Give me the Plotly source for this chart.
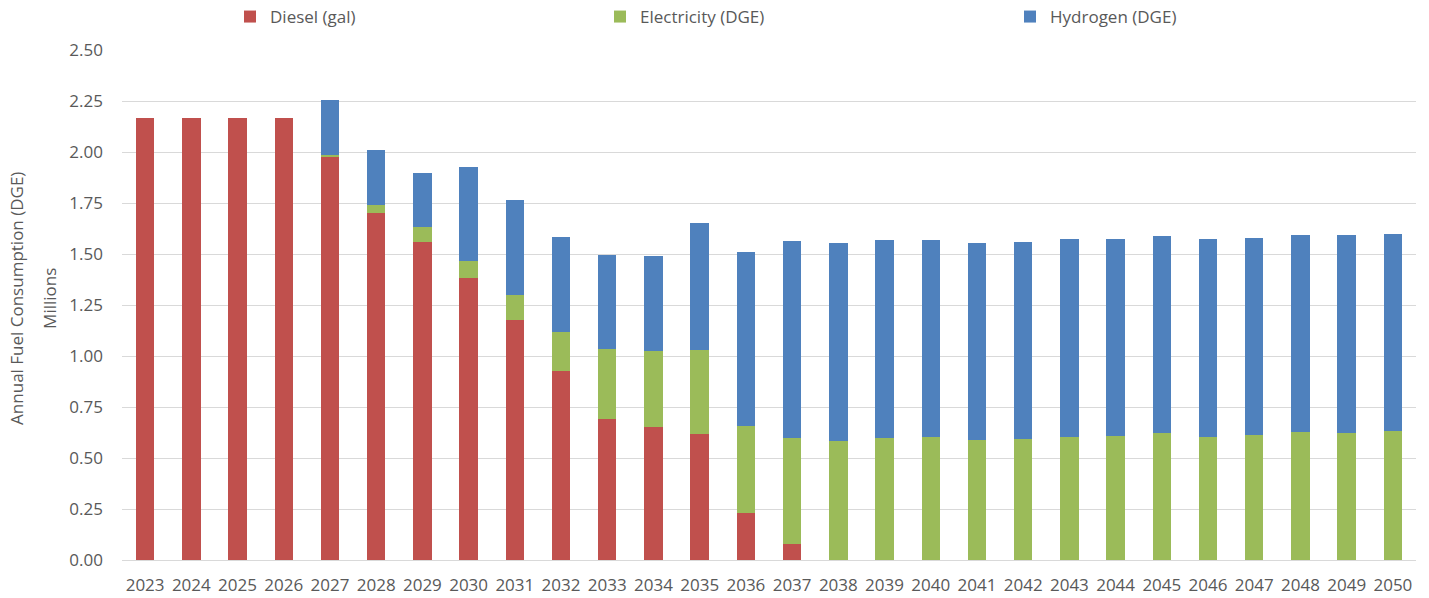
import plotly.graph_objects as go

years = [str(y) for y in range(2023, 2051)]

# Annual fuel consumption by fuel type, millions of DGE
diesel = [2.165, 2.165, 2.165, 2.165, 1.977, 1.700, 1.560, 1.384, 1.178, 0.925,
          0.693, 0.654, 0.616, 0.232, 0.077, 0, 0, 0, 0, 0, 0, 0, 0, 0, 0, 0, 0, 0]
electricity = [0, 0, 0, 0, 0.008, 0.039, 0.071, 0.082, 0.121, 0.194,
               0.341, 0.372, 0.413, 0.426, 0.519, 0.585, 0.596, 0.603, 0.588, 0.592,
               0.603, 0.608, 0.621, 0.605, 0.613, 0.627, 0.624, 0.631]
hydrogen = [0, 0, 0, 0, 0.270, 0.269, 0.268, 0.462, 0.464, 0.464,
            0.461, 0.463, 0.623, 0.850, 0.968, 0.967, 0.971, 0.966, 0.966, 0.967,
            0.969, 0.966, 0.967, 0.969, 0.967, 0.966, 0.968, 0.966]

y_ticks = [0, 0.25, 0.5, 0.75, 1.0, 1.25, 1.5, 1.75, 2.0, 2.25, 2.5]

FONT = "Open Sans"
GREY = "#595959"
FS = 17

series = [
    ("Diesel (gal)", diesel, "#C0504D", "legend"),
    ("Electricity (DGE)", electricity, "#9BBB59", "legend2"),
    ("Hydrogen (DGE)", hydrogen, "#4F81BD", "legend3"),
]

fig = go.Figure()
for name, vals, color, leg in series:
    fig.add_trace(go.Bar(
        x=years, y=vals, name=name, legend=leg, showlegend=True,
        marker=dict(color=color, line=dict(width=0)),
    ))

W, H = 1429, 598
legend_common = dict(
    orientation="h", xref="container", yref="container",
    yanchor="middle", xanchor="left",
    font=dict(family=FONT, size=FS, color=GREY),
    bgcolor="rgba(0,0,0,0)", itemwidth=30,
)

fig.update_layout(
    width=W, height=H,
    showlegend=True,
    barmode="stack", bargap=0.6,
    paper_bgcolor="white", plot_bgcolor="white",
    margin=dict(l=122, r=13, t=50, b=38, autoexpand=False),
    font=dict(family=FONT, size=FS, color=GREY),
    legend=dict(x=230 / W, y=1 - 17 / H, **legend_common),
    legend2=dict(x=600 / W, y=1 - 17 / H, **legend_common),
    legend3=dict(x=1010 / W, y=1 - 17 / H, **legend_common),
    xaxis=dict(
        type="category", showgrid=False, showline=True,
        linecolor="#D9D9D9", linewidth=1, ticks="",
        tickfont=dict(family=FONT, size=FS, color=GREY),
        ticklabelstandoff=10,
    ),
    yaxis=dict(
        range=[0, 2.5], tickvals=y_ticks,
        ticktext=[f"{v:.2f}" for v in y_ticks],
        showgrid=True, gridcolor="#D9D9D9", gridwidth=1,
        zeroline=False, showline=False, ticks="",
        tickfont=dict(family=FONT, size=FS, color=GREY),
        ticklabelstandoff=18,
    ),
    annotations=[
        dict(text="Annual Fuel Consumption (DGE)", textangle=-90,
             xref="paper", yref="paper", x=0, y=0.512, xshift=-105,
             xanchor="center", yanchor="middle", showarrow=False,
             font=dict(family=FONT, size=FS, color=GREY)),
        dict(text="Millions", textangle=-90,
             xref="paper", yref="paper", x=0, y=0.512, xshift=-72,
             xanchor="center", yanchor="middle", showarrow=False,
             font=dict(family=FONT, size=FS, color=GREY)),
    ],
)

fig.write_html("out.html")
